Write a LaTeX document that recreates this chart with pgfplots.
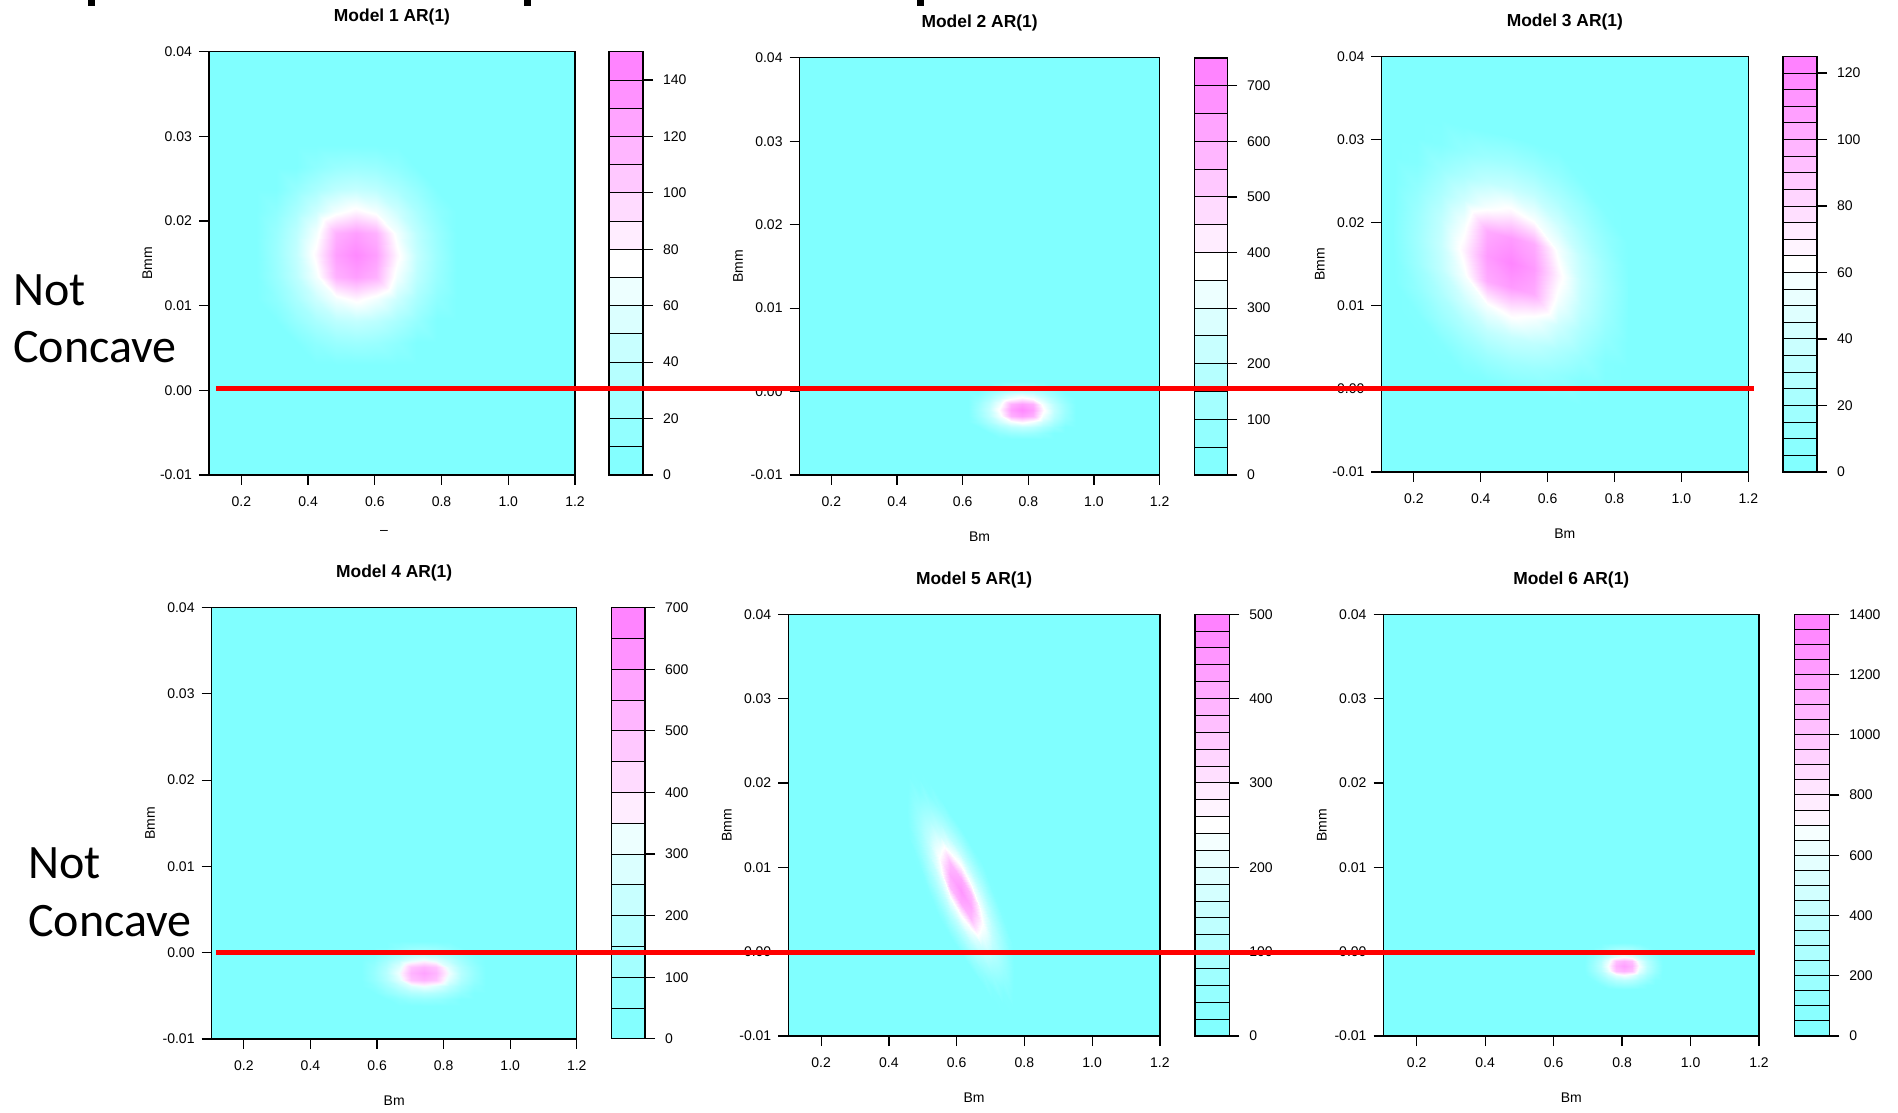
\documentclass[border=0pt]{standalone}
\usepackage{fontspec}
\setmainfont{Liberation Sans}
\newfontfamily\calibri{Carlito}
\usepackage{pgfplots}
\pgfplotsset{compat=1.18}
\definecolor{cmcyan}{rgb}{0.5,1,1}
\pgfplotsset{
  colormap={cmodd}{rgb=(0.5,1,1) rgb=(1,1,1) rgb=(1,0.5,1)},
  colormap={cmevenA}{rgb(0pt)=(0.5,1,1); rgb(6pt)=(0.92857,1,1); rgb(7pt)=(1,0.92857,1); rgb(13pt)=(1,0.5,1)},
  colormap={cmevenB}{rgb(0pt)=(0.5,1,1); rgb(13pt)=(0.96429,1,1); rgb(14pt)=(1,0.96429,1); rgb(27pt)=(1,0.5,1)},
  base/.style={scale only axis, anchor=south west, tick align=outside, major tick length=5bp,
    axis line style={black, line width=0.6bp}, tick style={black, line width=0.6bp},
    tick label style={font=\fontsize{7bp}{8bp}\selectfont},
    /pgf/number format/assume math mode=true, /pgf/number format/1000 sep={},
    scaled ticks=false, axis on top},
  panel/.style={base, xmin=0.103, xmax=1.2, ymin=-0.01, ymax=0.04,
    xtick={0.2,0.4,0.6,0.8,1.0,1.2}, xticklabels={0.2,0.4,0.6,0.8,1.0,1.2},
    ytick={-0.01,0,0.01,0.02,0.03,0.04}, yticklabels={-0.01,0.00,0.01,0.02,0.03,0.04},
    xticklabel style={yshift=-2.5bp},
    tick pos=left, axis background/.style={fill=cmcyan},
    xlabel={Bm}, ylabel={Bmm},
    every axis x label/.style={at={(axis description cs:0.5,0)}, anchor=center, yshift=-31bp, font=\fontsize{7bp}{8bp}\selectfont},
    every axis y label/.style={at={(axis description cs:0,0.5)}, anchor=center, rotate=90, yshift=30.8bp, font=\fontsize{7bp}{8bp}\selectfont},
    every axis title/.style={at={(axis description cs:0.5,1)}, anchor=center, yshift=17.2bp, font=\bfseries\fontsize{8.7bp}{9bp}\selectfont},
    point meta=explicit},
  cbar/.style={base, xmin=0, xmax=1, ymin=0, xtick=\empty, ytick pos=right, yticklabel pos=right,
    yticklabel style={xshift=1.5bp}},
  dens/.style={surf, shader=interp, mesh/cols=11},
  bands/.style={surf, shader=faceted, faceted color=black, line width=0.5bp, mesh/cols=2, point meta=y},
}
\begin{document}
\begin{tikzpicture}
\useasboundingbox (0,0) rectangle (949bp,556.5bp);

% ---------------- Panel 1 ----------------
\begin{axis}[panel, at={(104.5bp,319bp)}, width=183bp, height=211.6bp, title={Model 1 AR(1)}, xlabel={},
  colormap name=cmodd, point meta min=5, point meta max=145]
\addplot[dens] table[row sep=\\, meta=v] {x y v\\
0.245 0.0030 0\\ 0.305 0.0030 0\\ 0.365 0.0030 0\\ 0.425 0.0030 2\\ 0.485 0.0030 4\\ 0.545 0.0030 5\\ 0.605 0.0030 4\\ 0.665 0.0030 2\\ 0.725 0.0030 0\\ 0.785 0.0030 0\\ 0.845 0.0030 0\\
0.245 0.0056 0\\ 0.305 0.0056 1\\ 0.365 0.0056 5\\ 0.425 0.0056 13\\ 0.485 0.0056 19\\ 0.545 0.0056 21\\ 0.605 0.0056 19\\ 0.665 0.0056 13\\ 0.725 0.0056 5\\ 0.785 0.0056 1\\ 0.845 0.0056 0\\
0.245 0.0082 0\\ 0.305 0.0082 5\\ 0.365 0.0082 17\\ 0.425 0.0082 28\\ 0.485 0.0082 38\\ 0.545 0.0082 42\\ 0.605 0.0082 38\\ 0.665 0.0082 28\\ 0.725 0.0082 17\\ 0.785 0.0082 5\\ 0.845 0.0082 0\\
0.245 0.0108 2\\ 0.305 0.0108 13\\ 0.365 0.0108 28\\ 0.425 0.0108 47\\ 0.485 0.0108 68\\ 0.545 0.0108 80\\ 0.605 0.0108 68\\ 0.665 0.0108 47\\ 0.725 0.0108 28\\ 0.785 0.0108 13\\ 0.845 0.0108 2\\
0.245 0.0134 4\\ 0.305 0.0134 19\\ 0.365 0.0134 38\\ 0.425 0.0134 68\\ 0.485 0.0134 118\\ 0.545 0.0134 128\\ 0.605 0.0134 118\\ 0.665 0.0134 68\\ 0.725 0.0134 38\\ 0.785 0.0134 19\\ 0.845 0.0134 4\\
0.245 0.0160 5\\ 0.305 0.0160 21\\ 0.365 0.0160 42\\ 0.425 0.0160 80\\ 0.485 0.0160 128\\ 0.545 0.0160 140\\ 0.605 0.0160 128\\ 0.665 0.0160 80\\ 0.725 0.0160 42\\ 0.785 0.0160 21\\ 0.845 0.0160 5\\
0.245 0.0186 4\\ 0.305 0.0186 19\\ 0.365 0.0186 38\\ 0.425 0.0186 68\\ 0.485 0.0186 118\\ 0.545 0.0186 128\\ 0.605 0.0186 118\\ 0.665 0.0186 68\\ 0.725 0.0186 38\\ 0.785 0.0186 19\\ 0.845 0.0186 4\\
0.245 0.0212 2\\ 0.305 0.0212 13\\ 0.365 0.0212 28\\ 0.425 0.0212 47\\ 0.485 0.0212 68\\ 0.545 0.0212 80\\ 0.605 0.0212 68\\ 0.665 0.0212 47\\ 0.725 0.0212 28\\ 0.785 0.0212 13\\ 0.845 0.0212 2\\
0.245 0.0238 0\\ 0.305 0.0238 5\\ 0.365 0.0238 17\\ 0.425 0.0238 28\\ 0.485 0.0238 38\\ 0.545 0.0238 42\\ 0.605 0.0238 38\\ 0.665 0.0238 28\\ 0.725 0.0238 17\\ 0.785 0.0238 5\\ 0.845 0.0238 0\\
0.245 0.0264 0\\ 0.305 0.0264 1\\ 0.365 0.0264 5\\ 0.425 0.0264 13\\ 0.485 0.0264 19\\ 0.545 0.0264 21\\ 0.605 0.0264 19\\ 0.665 0.0264 13\\ 0.725 0.0264 5\\ 0.785 0.0264 1\\ 0.845 0.0264 0\\
0.245 0.0290 0\\ 0.305 0.0290 0\\ 0.365 0.0290 0\\ 0.425 0.0290 2\\ 0.485 0.0290 4\\ 0.545 0.0290 5\\ 0.605 0.0290 4\\ 0.665 0.0290 2\\ 0.725 0.0290 0\\ 0.785 0.0290 0\\ 0.845 0.0290 0\\
};
\end{axis}
\begin{axis}[cbar, at={(304.5bp,319bp)}, width=17bp, height=211.6bp, ymax=150,
  ytick={0,20,40,60,80,100,120,140}, colormap name=cmodd, point meta min=5, point meta max=145]
\addplot[bands] table[row sep=\\] {x y\\ 0 0\\ 1 0\\ 0 10\\ 1 10\\ 0 20\\ 1 20\\ 0 30\\ 1 30\\ 0 40\\ 1 40\\ 0 50\\ 1 50\\ 0 60\\ 1 60\\ 0 70\\ 1 70\\ 0 80\\ 1 80\\ 0 90\\ 1 90\\ 0 100\\ 1 100\\ 0 110\\ 1 110\\ 0 120\\ 1 120\\ 0 130\\ 1 130\\ 0 140\\ 1 140\\ 0 150\\ 1 150\\};
\end{axis}

% ---------------- Panel 2 ----------------
\begin{axis}[panel, at={(399.8bp,319bp)}, width=180bp, height=208.55bp, title={Model 2 AR(1)},
  colormap name=cmodd, point meta min=25, point meta max=725]
\addplot[dens] table[row sep=\\, meta=v] {x y v\\
0.615 -0.0057 0\\ 0.648 -0.0057 0\\ 0.681 -0.0057 0\\ 0.714 -0.0057 10\\ 0.747 -0.0057 20\\ 0.780 -0.0057 25\\ 0.813 -0.0057 20\\ 0.846 -0.0057 10\\ 0.879 -0.0057 0\\ 0.912 -0.0057 0\\ 0.945 -0.0057 0\\
0.615 -0.0050 0\\ 0.648 -0.0050 5\\ 0.681 -0.0050 25\\ 0.714 -0.0050 65\\ 0.747 -0.0050 95\\ 0.780 -0.0050 105\\ 0.813 -0.0050 95\\ 0.846 -0.0050 65\\ 0.879 -0.0050 25\\ 0.912 -0.0050 5\\ 0.945 -0.0050 0\\
0.615 -0.0043 0\\ 0.648 -0.0043 25\\ 0.681 -0.0043 85\\ 0.714 -0.0043 140\\ 0.747 -0.0043 190\\ 0.780 -0.0043 210\\ 0.813 -0.0043 190\\ 0.846 -0.0043 140\\ 0.879 -0.0043 85\\ 0.912 -0.0043 25\\ 0.945 -0.0043 0\\
0.615 -0.0036 10\\ 0.648 -0.0036 65\\ 0.681 -0.0036 140\\ 0.714 -0.0036 235\\ 0.747 -0.0036 340\\ 0.780 -0.0036 400\\ 0.813 -0.0036 340\\ 0.846 -0.0036 235\\ 0.879 -0.0036 140\\ 0.912 -0.0036 65\\ 0.945 -0.0036 10\\
0.615 -0.0029 20\\ 0.648 -0.0029 95\\ 0.681 -0.0029 190\\ 0.714 -0.0029 340\\ 0.747 -0.0029 590\\ 0.780 -0.0029 640\\ 0.813 -0.0029 590\\ 0.846 -0.0029 340\\ 0.879 -0.0029 190\\ 0.912 -0.0029 95\\ 0.945 -0.0029 20\\
0.615 -0.0022 25\\ 0.648 -0.0022 105\\ 0.681 -0.0022 210\\ 0.714 -0.0022 400\\ 0.747 -0.0022 640\\ 0.780 -0.0022 700\\ 0.813 -0.0022 640\\ 0.846 -0.0022 400\\ 0.879 -0.0022 210\\ 0.912 -0.0022 105\\ 0.945 -0.0022 25\\
0.615 -0.0015 20\\ 0.648 -0.0015 95\\ 0.681 -0.0015 190\\ 0.714 -0.0015 340\\ 0.747 -0.0015 590\\ 0.780 -0.0015 640\\ 0.813 -0.0015 590\\ 0.846 -0.0015 340\\ 0.879 -0.0015 190\\ 0.912 -0.0015 95\\ 0.945 -0.0015 20\\
0.615 -0.0008 10\\ 0.648 -0.0008 65\\ 0.681 -0.0008 140\\ 0.714 -0.0008 235\\ 0.747 -0.0008 340\\ 0.780 -0.0008 400\\ 0.813 -0.0008 340\\ 0.846 -0.0008 235\\ 0.879 -0.0008 140\\ 0.912 -0.0008 65\\ 0.945 -0.0008 10\\
0.615 -0.0001 0\\ 0.648 -0.0001 25\\ 0.681 -0.0001 85\\ 0.714 -0.0001 140\\ 0.747 -0.0001 190\\ 0.780 -0.0001 210\\ 0.813 -0.0001 190\\ 0.846 -0.0001 140\\ 0.879 -0.0001 85\\ 0.912 -0.0001 25\\ 0.945 -0.0001 0\\
0.615 0.0006 0\\ 0.648 0.0006 5\\ 0.681 0.0006 25\\ 0.714 0.0006 65\\ 0.747 0.0006 95\\ 0.780 0.0006 105\\ 0.813 0.0006 95\\ 0.846 0.0006 65\\ 0.879 0.0006 25\\ 0.912 0.0006 5\\ 0.945 0.0006 0\\
0.615 0.0013 0\\ 0.648 0.0013 0\\ 0.681 0.0013 0\\ 0.714 0.0013 10\\ 0.747 0.0013 20\\ 0.780 0.0013 25\\ 0.813 0.0013 20\\ 0.846 0.0013 10\\ 0.879 0.0013 0\\ 0.912 0.0013 0\\ 0.945 0.0013 0\\
};
\end{axis}
\begin{axis}[cbar, at={(597.35bp,319bp)}, width=16.2bp, height=208.55bp, ymax=750,
  ytick={0,100,200,300,400,500,600,700}, colormap name=cmodd, point meta min=25, point meta max=725]
\addplot[bands] table[row sep=\\] {x y\\ 0 0\\ 1 0\\ 0 50\\ 1 50\\ 0 100\\ 1 100\\ 0 150\\ 1 150\\ 0 200\\ 1 200\\ 0 250\\ 1 250\\ 0 300\\ 1 300\\ 0 350\\ 1 350\\ 0 400\\ 1 400\\ 0 450\\ 1 450\\ 0 500\\ 1 500\\ 0 550\\ 1 550\\ 0 600\\ 1 600\\ 0 650\\ 1 650\\ 0 700\\ 1 700\\ 0 750\\ 1 750\\};
\end{axis}

% ---------------- Panel 3 ----------------
\begin{axis}[panel, at={(690.7bp,320.5bp)}, width=183.45bp, height=207.8bp, title={Model 3 AR(1)},
  colormap name=cmodd, point meta min=2.5, point meta max=122.5]
\addplot[dens] table[row sep=\\, meta=v] {x y v\\
0.14 0.00388 0\\ 0.21 0.00314 0\\ 0.28 0.00241 0\\ 0.35 0.00167 2\\ 0.42 0.00094 3\\ 0.49 0.00020 4\\ 0.56 -0.00054 3\\ 0.63 -0.00127 2\\ 0.70 -0.00201 0\\ 0.77 -0.00274 0\\ 0.84 -0.00348 0\\
0.14 0.00688 0\\ 0.21 0.00614 1\\ 0.28 0.00541 4\\ 0.35 0.00467 11\\ 0.42 0.00394 16\\ 0.49 0.00320 18\\ 0.56 0.00246 16\\ 0.63 0.00173 11\\ 0.70 0.00099 4\\ 0.77 0.00026 1\\ 0.84 -0.00048 0\\
0.14 0.00988 0\\ 0.21 0.00914 4\\ 0.28 0.00841 15\\ 0.35 0.00767 24\\ 0.42 0.00694 33\\ 0.49 0.00620 36\\ 0.56 0.00546 33\\ 0.63 0.00473 24\\ 0.70 0.00399 15\\ 0.77 0.00326 4\\ 0.84 0.00252 0\\
0.14 0.01288 2\\ 0.21 0.01214 11\\ 0.28 0.01141 24\\ 0.35 0.01067 40\\ 0.42 0.00994 58\\ 0.49 0.00920 69\\ 0.56 0.00846 58\\ 0.63 0.00773 40\\ 0.70 0.00699 24\\ 0.77 0.00626 11\\ 0.84 0.00552 2\\
0.14 0.01588 3\\ 0.21 0.01514 16\\ 0.28 0.01441 33\\ 0.35 0.01367 58\\ 0.42 0.01294 102\\ 0.49 0.01220 110\\ 0.56 0.01146 102\\ 0.63 0.01073 58\\ 0.70 0.00999 33\\ 0.77 0.00926 16\\ 0.84 0.00852 3\\
0.14 0.01888 4\\ 0.21 0.01814 18\\ 0.28 0.01741 36\\ 0.35 0.01667 69\\ 0.42 0.01594 110\\ 0.49 0.01520 120\\ 0.56 0.01446 110\\ 0.63 0.01373 69\\ 0.70 0.01299 36\\ 0.77 0.01226 18\\ 0.84 0.01152 4\\
0.14 0.02188 3\\ 0.21 0.02114 16\\ 0.28 0.02041 33\\ 0.35 0.01967 58\\ 0.42 0.01894 102\\ 0.49 0.01820 110\\ 0.56 0.01746 102\\ 0.63 0.01673 58\\ 0.70 0.01599 33\\ 0.77 0.01526 16\\ 0.84 0.01452 3\\
0.14 0.02488 2\\ 0.21 0.02414 11\\ 0.28 0.02341 24\\ 0.35 0.02267 40\\ 0.42 0.02194 58\\ 0.49 0.02120 69\\ 0.56 0.02046 58\\ 0.63 0.01973 40\\ 0.70 0.01899 24\\ 0.77 0.01826 11\\ 0.84 0.01752 2\\
0.14 0.02788 0\\ 0.21 0.02714 4\\ 0.28 0.02641 15\\ 0.35 0.02567 24\\ 0.42 0.02494 33\\ 0.49 0.02420 36\\ 0.56 0.02346 33\\ 0.63 0.02273 24\\ 0.70 0.02199 15\\ 0.77 0.02126 4\\ 0.84 0.02052 0\\
0.14 0.03088 0\\ 0.21 0.03014 1\\ 0.28 0.02941 4\\ 0.35 0.02867 11\\ 0.42 0.02794 16\\ 0.49 0.02720 18\\ 0.56 0.02646 16\\ 0.63 0.02573 11\\ 0.70 0.02499 4\\ 0.77 0.02426 1\\ 0.84 0.02352 0\\
0.14 0.03388 0\\ 0.21 0.03314 0\\ 0.28 0.03241 0\\ 0.35 0.03167 2\\ 0.42 0.03094 3\\ 0.49 0.03020 4\\ 0.56 0.02946 3\\ 0.63 0.02873 2\\ 0.70 0.02799 0\\ 0.77 0.02726 0\\ 0.84 0.02652 0\\
};
\end{axis}
\begin{axis}[cbar, at={(891.5bp,320.5bp)}, width=17bp, height=207.8bp, ymax=125,
  ytick={0,20,40,60,80,100,120}, colormap name=cmodd, point meta min=2.5, point meta max=122.5]
\addplot[bands] table[row sep=\\] {x y\\ 0 0\\ 1 0\\ 0 5\\ 1 5\\ 0 10\\ 1 10\\ 0 15\\ 1 15\\ 0 20\\ 1 20\\ 0 25\\ 1 25\\ 0 30\\ 1 30\\ 0 35\\ 1 35\\ 0 40\\ 1 40\\ 0 45\\ 1 45\\ 0 50\\ 1 50\\ 0 55\\ 1 55\\ 0 60\\ 1 60\\ 0 65\\ 1 65\\ 0 70\\ 1 70\\ 0 75\\ 1 75\\ 0 80\\ 1 80\\ 0 85\\ 1 85\\ 0 90\\ 1 90\\ 0 95\\ 1 95\\ 0 100\\ 1 100\\ 0 105\\ 1 105\\ 0 110\\ 1 110\\ 0 115\\ 1 115\\ 0 120\\ 1 120\\ 0 125\\ 1 125\\};
\end{axis}

% ---------------- Panel 4 ----------------
\begin{axis}[panel, at={(105.8bp,37.05bp)}, width=182.6bp, height=215.65bp, title={Model 4 AR(1)},
  colormap name=cmevenA, point meta min=25, point meta max=675]
\addplot[dens] table[row sep=\\, meta=v] {x y v\\
0.5525 -0.00615 0\\ 0.59 -0.00615 0\\ 0.6275 -0.00615 0\\ 0.665 -0.00615 8\\ 0.7025 -0.00615 17\\ 0.74 -0.00615 21\\ 0.7775 -0.00615 17\\ 0.815 -0.00615 8\\ 0.8525 -0.00615 0\\ 0.89 -0.00615 0\\ 0.9275 -0.00615 0\\
0.5525 -0.0054 0\\ 0.59 -0.0054 4\\ 0.6275 -0.0054 21\\ 0.665 -0.0054 54\\ 0.7025 -0.0054 79\\ 0.74 -0.0054 87\\ 0.7775 -0.0054 79\\ 0.815 -0.0054 54\\ 0.8525 -0.0054 21\\ 0.89 -0.0054 4\\ 0.9275 -0.0054 0\\
0.5525 -0.00465 0\\ 0.59 -0.00465 21\\ 0.6275 -0.00465 70\\ 0.665 -0.00465 117\\ 0.7025 -0.00465 158\\ 0.74 -0.00465 174\\ 0.7775 -0.00465 158\\ 0.815 -0.00465 117\\ 0.8525 -0.00465 70\\ 0.89 -0.00465 21\\ 0.9275 -0.00465 0\\
0.5525 -0.0039 8\\ 0.59 -0.0039 54\\ 0.6275 -0.0039 117\\ 0.665 -0.0039 195\\ 0.7025 -0.0039 282\\ 0.74 -0.0039 332\\ 0.7775 -0.0039 282\\ 0.815 -0.0039 195\\ 0.8525 -0.0039 117\\ 0.89 -0.0039 54\\ 0.9275 -0.0039 8\\
0.5525 -0.00315 17\\ 0.59 -0.00315 79\\ 0.6275 -0.00315 158\\ 0.665 -0.00315 282\\ 0.7025 -0.00315 490\\ 0.74 -0.00315 531\\ 0.7775 -0.00315 490\\ 0.815 -0.00315 282\\ 0.8525 -0.00315 158\\ 0.89 -0.00315 79\\ 0.9275 -0.00315 17\\
0.5525 -0.0024 21\\ 0.59 -0.0024 87\\ 0.6275 -0.0024 174\\ 0.665 -0.0024 332\\ 0.7025 -0.0024 531\\ 0.74 -0.0024 579\\ 0.7775 -0.0024 531\\ 0.815 -0.0024 332\\ 0.8525 -0.0024 174\\ 0.89 -0.0024 87\\ 0.9275 -0.0024 21\\
0.5525 -0.00165 17\\ 0.59 -0.00165 79\\ 0.6275 -0.00165 158\\ 0.665 -0.00165 282\\ 0.7025 -0.00165 490\\ 0.74 -0.00165 531\\ 0.7775 -0.00165 490\\ 0.815 -0.00165 282\\ 0.8525 -0.00165 158\\ 0.89 -0.00165 79\\ 0.9275 -0.00165 17\\
0.5525 -0.0009 8\\ 0.59 -0.0009 54\\ 0.6275 -0.0009 117\\ 0.665 -0.0009 195\\ 0.7025 -0.0009 282\\ 0.74 -0.0009 332\\ 0.7775 -0.0009 282\\ 0.815 -0.0009 195\\ 0.8525 -0.0009 117\\ 0.89 -0.0009 54\\ 0.9275 -0.0009 8\\
0.5525 -0.00015 0\\ 0.59 -0.00015 21\\ 0.6275 -0.00015 70\\ 0.665 -0.00015 117\\ 0.7025 -0.00015 158\\ 0.74 -0.00015 174\\ 0.7775 -0.00015 158\\ 0.815 -0.00015 117\\ 0.8525 -0.00015 70\\ 0.89 -0.00015 21\\ 0.9275 -0.00015 0\\
0.5525 0.0006 0\\ 0.59 0.0006 4\\ 0.6275 0.0006 21\\ 0.665 0.0006 54\\ 0.7025 0.0006 79\\ 0.74 0.0006 87\\ 0.7775 0.0006 79\\ 0.815 0.0006 54\\ 0.8525 0.0006 21\\ 0.89 0.0006 4\\ 0.9275 0.0006 0\\
0.5525 0.00135 0\\ 0.59 0.00135 0\\ 0.6275 0.00135 0\\ 0.665 0.00135 8\\ 0.7025 0.00135 17\\ 0.74 0.00135 21\\ 0.7775 0.00135 17\\ 0.815 0.00135 8\\ 0.8525 0.00135 0\\ 0.89 0.00135 0\\ 0.9275 0.00135 0\\
};
\end{axis}
\begin{axis}[cbar, at={(305.8bp,37.05bp)}, width=16.7bp, height=215.65bp, ymax=700,
  ytick={0,100,200,300,400,500,600,700}, colormap name=cmevenA, point meta min=25, point meta max=675]
\addplot[bands] table[row sep=\\] {x y\\ 0 0\\ 1 0\\ 0 50\\ 1 50\\ 0 100\\ 1 100\\ 0 150\\ 1 150\\ 0 200\\ 1 200\\ 0 250\\ 1 250\\ 0 300\\ 1 300\\ 0 350\\ 1 350\\ 0 400\\ 1 400\\ 0 450\\ 1 450\\ 0 500\\ 1 500\\ 0 550\\ 1 550\\ 0 600\\ 1 600\\ 0 650\\ 1 650\\ 0 700\\ 1 700\\};
\end{axis}

% ---------------- Panel 5 ----------------
\begin{axis}[panel, at={(394.15bp,38.5bp)}, width=185.8bp, height=210.9bp, title={Model 5 AR(1)},
  colormap name=cmodd, point meta min=10, point meta max=490]
\addplot[dens] table[row sep=\\, meta=v] {x y v\\
0.457 0.00939 0\\ 0.488 0.00750 0\\ 0.519 0.00561 0\\ 0.550 0.00373 6\\ 0.581 0.00184 13\\ 0.612 -0.00005 16\\ 0.643 -0.00194 13\\ 0.674 -0.00383 6\\ 0.705 -0.00571 0\\ 0.736 -0.00760 0\\ 0.767 -0.00949 0\\
0.457 0.01084 0\\ 0.488 0.00895 3\\ 0.519 0.00706 16\\ 0.550 0.00518 42\\ 0.581 0.00329 61\\ 0.612 0.00140 68\\ 0.643 -0.00049 61\\ 0.674 -0.00238 42\\ 0.705 -0.00426 16\\ 0.736 -0.00615 3\\ 0.767 -0.00804 0\\
0.457 0.01229 0\\ 0.488 0.01040 16\\ 0.519 0.00851 55\\ 0.550 0.00663 91\\ 0.581 0.00474 122\\ 0.612 0.00285 136\\ 0.643 0.00096 122\\ 0.674 -0.00093 91\\ 0.705 -0.00281 55\\ 0.736 -0.00470 16\\ 0.767 -0.00659 0\\
0.457 0.01374 6\\ 0.488 0.01185 42\\ 0.519 0.00996 91\\ 0.550 0.00808 151\\ 0.581 0.00619 219\\ 0.612 0.00430 258\\ 0.643 0.00241 219\\ 0.674 0.00052 151\\ 0.705 -0.00136 91\\ 0.736 -0.00325 42\\ 0.767 -0.00514 6\\
0.457 0.01519 13\\ 0.488 0.01330 61\\ 0.519 0.01141 122\\ 0.550 0.00953 219\\ 0.581 0.00764 381\\ 0.612 0.00575 413\\ 0.643 0.00386 381\\ 0.674 0.00197 219\\ 0.705 0.00009 122\\ 0.736 -0.00180 61\\ 0.767 -0.00369 13\\
0.457 0.01664 16\\ 0.488 0.01475 68\\ 0.519 0.01286 136\\ 0.550 0.01098 258\\ 0.581 0.00909 413\\ 0.612 0.00720 450\\ 0.643 0.00531 413\\ 0.674 0.00342 258\\ 0.705 0.00154 136\\ 0.736 -0.00035 68\\ 0.767 -0.00224 16\\
0.457 0.01809 13\\ 0.488 0.01620 61\\ 0.519 0.01431 122\\ 0.550 0.01243 219\\ 0.581 0.01054 381\\ 0.612 0.00865 413\\ 0.643 0.00676 381\\ 0.674 0.00487 219\\ 0.705 0.00299 122\\ 0.736 0.00110 61\\ 0.767 -0.00079 13\\
0.457 0.01954 6\\ 0.488 0.01765 42\\ 0.519 0.01576 91\\ 0.550 0.01388 151\\ 0.581 0.01199 219\\ 0.612 0.01010 258\\ 0.643 0.00821 219\\ 0.674 0.00632 151\\ 0.705 0.00444 91\\ 0.736 0.00255 42\\ 0.767 0.00066 6\\
0.457 0.02099 0\\ 0.488 0.01910 16\\ 0.519 0.01721 55\\ 0.550 0.01533 91\\ 0.581 0.01344 122\\ 0.612 0.01155 136\\ 0.643 0.00966 122\\ 0.674 0.00777 91\\ 0.705 0.00589 55\\ 0.736 0.00400 16\\ 0.767 0.00211 0\\
0.457 0.02244 0\\ 0.488 0.02055 3\\ 0.519 0.01866 16\\ 0.550 0.01678 42\\ 0.581 0.01489 61\\ 0.612 0.01300 68\\ 0.643 0.01111 61\\ 0.674 0.00922 42\\ 0.705 0.00734 16\\ 0.736 0.00545 3\\ 0.767 0.00356 0\\
0.457 0.02389 0\\ 0.488 0.02200 0\\ 0.519 0.02011 0\\ 0.550 0.01823 6\\ 0.581 0.01634 13\\ 0.612 0.01445 16\\ 0.643 0.01256 13\\ 0.674 0.01067 6\\ 0.705 0.00879 0\\ 0.736 0.00690 0\\ 0.767 0.00501 0\\
};
\end{axis}
\begin{axis}[cbar, at={(597.5bp,38.5bp)}, width=17.15bp, height=210.9bp, ymax=500,
  ytick={0,100,200,300,400,500}, colormap name=cmodd, point meta min=10, point meta max=490]
\addplot[bands] table[row sep=\\] {x y\\ 0 0\\ 1 0\\ 0 20\\ 1 20\\ 0 40\\ 1 40\\ 0 60\\ 1 60\\ 0 80\\ 1 80\\ 0 100\\ 1 100\\ 0 120\\ 1 120\\ 0 140\\ 1 140\\ 0 160\\ 1 160\\ 0 180\\ 1 180\\ 0 200\\ 1 200\\ 0 220\\ 1 220\\ 0 240\\ 1 240\\ 0 260\\ 1 260\\ 0 280\\ 1 280\\ 0 300\\ 1 300\\ 0 320\\ 1 320\\ 0 340\\ 1 340\\ 0 360\\ 1 360\\ 0 380\\ 1 380\\ 0 400\\ 1 400\\ 0 420\\ 1 420\\ 0 440\\ 1 440\\ 0 460\\ 1 460\\ 0 480\\ 1 480\\ 0 500\\ 1 500\\};
\end{axis}

% ---------------- Panel 6 ----------------
\begin{axis}[panel, at={(691.75bp,38.5bp)}, width=187.75bp, height=210.9bp, title={Model 6 AR(1)},
  colormap name=cmevenB, point meta min=25, point meta max=1375]
\addplot[dens] table[row sep=\\, meta=v] {x y v\\
0.6925 -0.00445 0\\ 0.715 -0.00445 0\\ 0.7375 -0.00445 0\\ 0.76 -0.00445 17\\ 0.7825 -0.00445 35\\ 0.805 -0.00445 43\\ 0.8275 -0.00445 35\\ 0.85 -0.00445 17\\ 0.8725 -0.00445 0\\ 0.895 -0.00445 0\\ 0.9175 -0.00445 0\\
0.6925 -0.0039 0\\ 0.715 -0.0039 9\\ 0.7375 -0.0039 43\\ 0.76 -0.0039 112\\ 0.7825 -0.0039 164\\ 0.805 -0.0039 180\\ 0.8275 -0.0039 164\\ 0.85 -0.0039 112\\ 0.8725 -0.0039 43\\ 0.895 -0.0039 9\\ 0.9175 -0.0039 0\\
0.6925 -0.00335 0\\ 0.715 -0.00335 43\\ 0.7375 -0.00335 146\\ 0.76 -0.00335 241\\ 0.7825 -0.00335 326\\ 0.805 -0.00335 361\\ 0.8275 -0.00335 326\\ 0.85 -0.00335 241\\ 0.8725 -0.00335 146\\ 0.895 -0.00335 43\\ 0.9175 -0.00335 0\\
0.6925 -0.0028 17\\ 0.715 -0.0028 112\\ 0.7375 -0.0028 241\\ 0.76 -0.0028 403\\ 0.7825 -0.0028 583\\ 0.805 -0.0028 687\\ 0.8275 -0.0028 583\\ 0.85 -0.0028 403\\ 0.8725 -0.0028 241\\ 0.895 -0.0028 112\\ 0.9175 -0.0028 17\\
0.6925 -0.00225 35\\ 0.715 -0.00225 164\\ 0.7375 -0.00225 326\\ 0.76 -0.00225 583\\ 0.7825 -0.00225 1014\\ 0.805 -0.00225 1099\\ 0.8275 -0.00225 1014\\ 0.85 -0.00225 583\\ 0.8725 -0.00225 326\\ 0.895 -0.00225 164\\ 0.9175 -0.00225 35\\
0.6925 -0.0017 43\\ 0.715 -0.0017 180\\ 0.7375 -0.0017 361\\ 0.76 -0.0017 687\\ 0.7825 -0.0017 1099\\ 0.805 -0.0017 1198\\ 0.8275 -0.0017 1099\\ 0.85 -0.0017 687\\ 0.8725 -0.0017 361\\ 0.895 -0.0017 180\\ 0.9175 -0.0017 43\\
0.6925 -0.00115 35\\ 0.715 -0.00115 164\\ 0.7375 -0.00115 326\\ 0.76 -0.00115 583\\ 0.7825 -0.00115 1014\\ 0.805 -0.00115 1099\\ 0.8275 -0.00115 1014\\ 0.85 -0.00115 583\\ 0.8725 -0.00115 326\\ 0.895 -0.00115 164\\ 0.9175 -0.00115 35\\
0.6925 -0.0006 17\\ 0.715 -0.0006 112\\ 0.7375 -0.0006 241\\ 0.76 -0.0006 403\\ 0.7825 -0.0006 583\\ 0.805 -0.0006 687\\ 0.8275 -0.0006 583\\ 0.85 -0.0006 403\\ 0.8725 -0.0006 241\\ 0.895 -0.0006 112\\ 0.9175 -0.0006 17\\
0.6925 -0.00005 0\\ 0.715 -0.00005 43\\ 0.7375 -0.00005 146\\ 0.76 -0.00005 241\\ 0.7825 -0.00005 326\\ 0.805 -0.00005 361\\ 0.8275 -0.00005 326\\ 0.85 -0.00005 241\\ 0.8725 -0.00005 146\\ 0.895 -0.00005 43\\ 0.9175 -0.00005 0\\
0.6925 0.0005 0\\ 0.715 0.0005 9\\ 0.7375 0.0005 43\\ 0.76 0.0005 112\\ 0.7825 0.0005 164\\ 0.805 0.0005 180\\ 0.8275 0.0005 164\\ 0.85 0.0005 112\\ 0.8725 0.0005 43\\ 0.895 0.0005 9\\ 0.9175 0.0005 0\\
0.6925 0.00105 0\\ 0.715 0.00105 0\\ 0.7375 0.00105 0\\ 0.76 0.00105 17\\ 0.7825 0.00105 35\\ 0.805 0.00105 43\\ 0.8275 0.00105 35\\ 0.85 0.00105 17\\ 0.8725 0.00105 0\\ 0.895 0.00105 0\\ 0.9175 0.00105 0\\
};
\end{axis}
\begin{axis}[cbar, at={(897.3bp,38.5bp)}, width=17.35bp, height=210.9bp, ymax=1400,
  ytick={0,200,400,600,800,1000,1200,1400}, colormap name=cmevenB, point meta min=25, point meta max=1375]
\addplot[bands] table[row sep=\\] {x y\\ 0 0\\ 1 0\\ 0 50\\ 1 50\\ 0 100\\ 1 100\\ 0 150\\ 1 150\\ 0 200\\ 1 200\\ 0 250\\ 1 250\\ 0 300\\ 1 300\\ 0 350\\ 1 350\\ 0 400\\ 1 400\\ 0 450\\ 1 450\\ 0 500\\ 1 500\\ 0 550\\ 1 550\\ 0 600\\ 1 600\\ 0 650\\ 1 650\\ 0 700\\ 1 700\\ 0 750\\ 1 750\\ 0 800\\ 1 800\\ 0 850\\ 1 850\\ 0 900\\ 1 900\\ 0 950\\ 1 950\\ 0 1000\\ 1 1000\\ 0 1050\\ 1 1050\\ 0 1100\\ 1 1100\\ 0 1150\\ 1 1150\\ 0 1200\\ 1 1200\\ 0 1250\\ 1 1250\\ 0 1300\\ 1 1300\\ 0 1350\\ 1 1350\\ 0 1400\\ 1 1400\\};
\end{axis}

% ---------------- Overlay (pixel coordinates) ----------------
\begin{axis}[scale only axis, at={(0bp,0bp)}, anchor=south west, width=949bp, height=556.5bp,
  xmin=0, xmax=1898, ymin=0, ymax=1113, y dir=reverse, hide axis, clip=false]
\addplot[red, line width=2.5bp] coordinates {(216,388.6) (1754,388.6)};
\addplot[red, line width=2.5bp] coordinates {(215.6,952) (1755,952)};
\addplot[fill=black, draw=none] coordinates {(88,0) (95,0) (95,6) (88,6)};
\addplot[fill=black, draw=none] coordinates {(524,0) (531,0) (531,6) (524,6)};
\addplot[fill=black, draw=none] coordinates {(917,0) (924,0) (924,6) (917,6)};
\node[anchor=base west, inner sep=0pt, font=\calibri\fontsize{24bp}{28bp}\selectfont] at (axis cs:13,305) {Not};
\node[anchor=base west, inner sep=0pt, font=\calibri\fontsize{24bp}{28bp}\selectfont] at (axis cs:13,362) {Concave};
\node[anchor=base west, inner sep=0pt, font=\calibri\fontsize{24bp}{28bp}\selectfont] at (axis cs:28,878) {Not};
\node[anchor=base west, inner sep=0pt, font=\calibri\fontsize{24bp}{28bp}\selectfont] at (axis cs:28,936.6) {Concave};
\node[anchor=center, inner sep=0pt, font=\fontsize{7bp}{8bp}\selectfont] at (axis cs:384,532) {–};
\end{axis}
\end{tikzpicture}
\end{document}
